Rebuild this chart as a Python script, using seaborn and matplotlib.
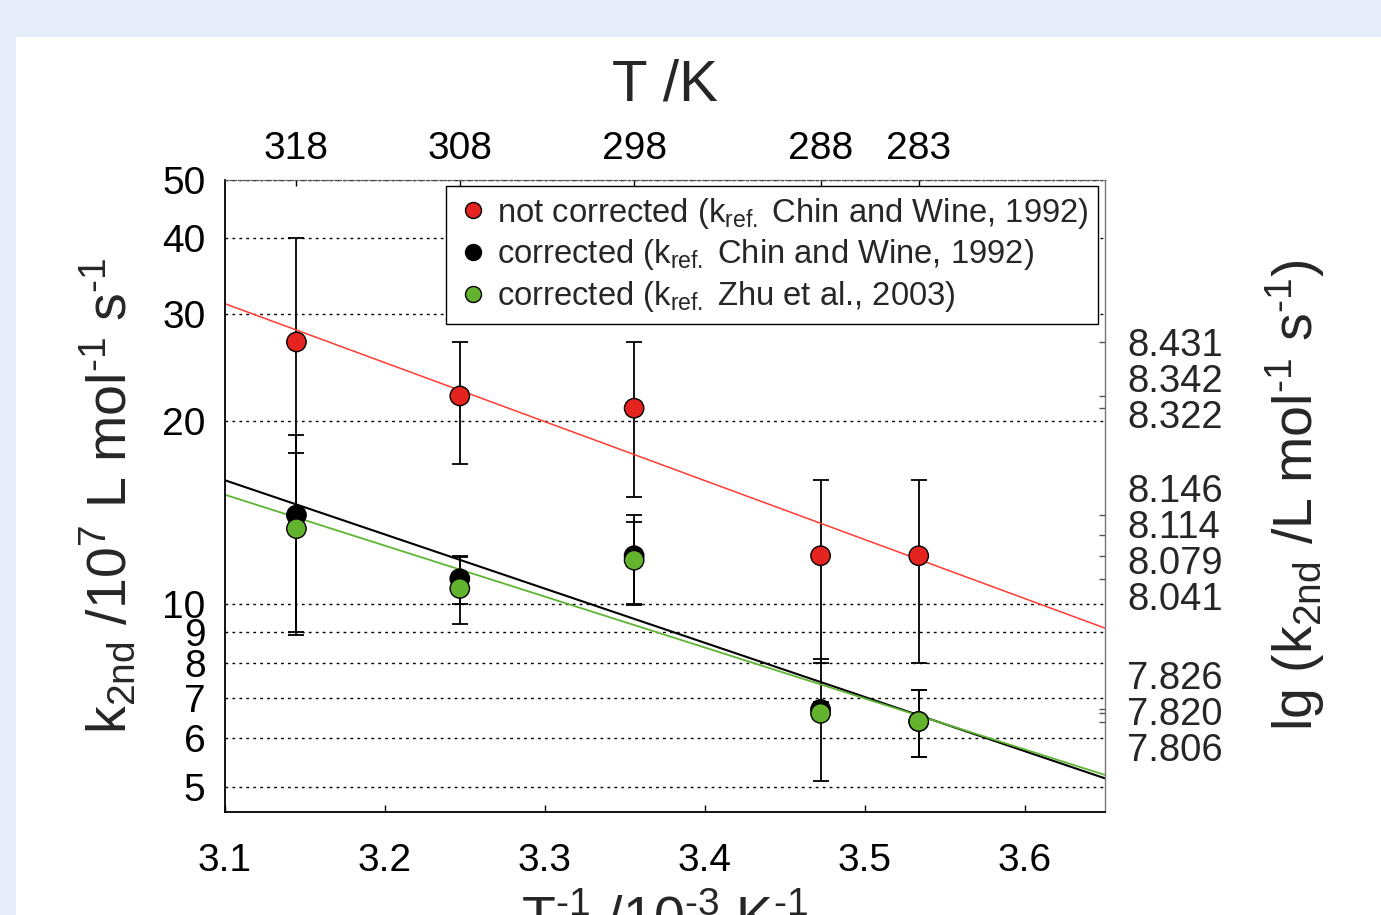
import numpy as np
import pandas as pd
import matplotlib
matplotlib.use("Agg")
import matplotlib.pyplot as plt
import matplotlib.transforms as mtransforms
from matplotlib.patches import Rectangle
from matplotlib.lines import Line2D
from matplotlib.ticker import FixedLocator, FixedFormatter, NullLocator
import seaborn as sns

# ---------------- data ----------------
temperatures_K = [318, 308, 298, 288, 283]
k_not_corrected = [27.0, 22.0, 21.0, 12.0, 12.0]
err_not_corrected = [13.0, 5.0, 6.0, 4.0, 4.0]
k_corrected_chin = [14.0, 11.0, 12.0, 6.7, 6.4]
err_corrected_chin = [5.0, 1.0, 2.0, 0.2, 0.8]
k_corrected_zhu = [13.3, 10.6, 11.8, 6.6, 6.4]
err_corrected_zhu = [4.4, 1.35, 1.85, 1.5, 0.8]
series_labels = [
    r"not corrected (k$_{\mathrm{ref.}}$ Chin and Wine, 1992)",
    r"corrected (k$_{\mathrm{ref.}}$ Chin and Wine, 1992)",
    r"corrected (k$_{\mathrm{ref.}}$ Zhu et al., 2003)",
]
marker_colors = ["#e5241f", "#000000", "#63b32e"]
line_colors = ["#ff3b33", "#000000", "#5fb533"]
x_ticks = [3.1, 3.2, 3.3, 3.4, 3.5, 3.6]
y_ticks = [5, 6, 7, 8, 9, 10, 20, 30, 40, 50]
y_ticklabels = ["5", "6", "7", "8", "9", "10", "20", "30", "40", "50"]
lg_ticks = [8.431, 8.342, 8.322, 8.146, 8.114, 8.079, 8.041, 7.826, 7.820, 7.806]

# ---------------- style ----------------
sns.set_theme(style="white")
plt.rcParams["font.family"] = ["Liberation Sans", "DejaVu Sans"]
plt.rcParams["mathtext.fontset"] = "custom"
plt.rcParams["mathtext.rm"] = "Liberation Sans"
plt.rcParams["mathtext.it"] = "Liberation Sans:italic"
plt.rcParams["mathtext.bf"] = "Liberation Sans:bold"
plt.rcParams["mathtext.default"] = "regular"

TICK_FS = 28
LABEL_FS = 40
HY = "\u2010"  # short hyphen for superscripts

fig = plt.figure(figsize=(13.81, 9.15), dpi=100)
fig.patch.set_facecolor("#e6ecf9")
fig.add_artist(Rectangle((16 / 1381, 0), 1 - 16 / 1381, 1 - 37 / 915,
                         transform=fig.transFigure, facecolor="white",
                         edgecolor="none", zorder=-10))

ax = fig.add_axes([225 / 1381, (915 - 812) / 915, 880 / 1381, 632.5 / 915])
ax.set_facecolor("white")

# long-form data frame
frames = []
for lab, k, e in zip(series_labels,
                     [k_not_corrected, k_corrected_chin, k_corrected_zhu],
                     [err_not_corrected, err_corrected_chin, err_corrected_zhu]):
    frames.append(pd.DataFrame({
        "T": temperatures_K,
        "invT": [1000.0 / t for t in temperatures_K],
        "k": k, "err": e, "series": lab}))
df = pd.concat(frames, ignore_index=True)

ax.set_yscale("log")
ax.set_xlim(3.1, 3.65)
ax.set_ylim(4.54, 50)

# error bars
for lab in series_labels:
    sub = df[df["series"] == lab]
    ax.errorbar(sub["invT"], sub["k"], yerr=sub["err"], fmt="none",
                ecolor="black", elinewidth=1.3, capsize=6, capthick=1.3,
                zorder=2)

# Arrhenius fit lines (log10 k vs 1/T)
xs = np.array(ax.get_xlim())
for lab, lc, lw in zip(series_labels, line_colors, [1.1, 1.5, 1.3]):
    sub = df[df["series"] == lab]
    p = np.polyfit(sub["invT"], np.log10(sub["k"]), 1)
    sns.lineplot(x=xs, y=10 ** np.polyval(p, xs), ax=ax, color=lc,
                 linewidth=lw, zorder=2.5, legend=False)

# markers
sns.scatterplot(data=df, x="invT", y="k", hue="series",
                palette=dict(zip(series_labels, marker_colors)),
                s=195, edgecolor="black", linewidth=1.0, ax=ax, zorder=3,
                legend=False)
ax.set_xlim(3.1, 3.65)
ax.set_ylim(4.54, 50)

# axes styling
ax.xaxis.set_major_locator(FixedLocator(x_ticks))
ax.set_xticklabels([f"{v:.1f}" for v in x_ticks])
ax.yaxis.set_major_locator(FixedLocator(y_ticks))
ax.yaxis.set_major_formatter(FixedFormatter(y_ticklabels))
ax.yaxis.set_minor_locator(NullLocator())
ax.tick_params(axis="x", direction="in", length=5, width=1, labelsize=TICK_FS,
               pad=22, colors="black", bottom=True)
ax.tick_params(axis="y", direction="in", length=0, labelsize=TICK_FS, pad=14,
               colors="black", left=True)
ax.grid(axis="y", linestyle=(0, (2, 3)), color="black", linewidth=1.0)
ax.grid(axis="x", visible=False)
for side in ["left", "bottom"]:
    ax.spines[side].set_color("black")
    ax.spines[side].set_linewidth(1.3)
ax.spines["top"].set_visible(False)
ax.spines["right"].set_color("#777777")
ax.spines["right"].set_linewidth(1.0)

ax.set_xlabel(f"T$^{{{HY}1}}$ /10$^{{{HY}3}}$ K$^{{{HY}1}}$",
              fontsize=LABEL_FS, labelpad=12)
ax.set_ylabel(f"k$_{{2nd}}$ /10$^{{7}}$ L mol$^{{{HY}1}}$ s$^{{{HY}1}}$",
              fontsize=LABEL_FS)
ax.yaxis.set_label_coords(-0.099, 0.5)

# legend
handles = [Line2D([], [], linestyle="none", marker="o", markersize=11.5,
                  markerfacecolor=c, markeredgecolor="black",
                  markeredgewidth=1.0) for c in marker_colors]
leg = ax.legend(handles, series_labels, loc="upper right", fontsize=23.6,
                frameon=True, fancybox=False, framealpha=1, edgecolor="black",
                borderaxespad=0.2, handletextpad=0.25, handlelength=1.0,
                labelspacing=0.2, borderpad=0.3)
leg.get_frame().set_linewidth(1.0)
leg.set_zorder(5)

# top axis: temperature
ax_top = ax.twiny()
ax_top.set_xlim(ax.get_xlim())
ax_top.xaxis.set_major_locator(FixedLocator([1000.0 / t for t in temperatures_K]))
ax_top.set_xticklabels([str(t) for t in temperatures_K])
ax_top.xaxis.set_minor_locator(NullLocator())
ax_top.tick_params(axis="x", direction="in", length=4, width=1,
                   labelsize=TICK_FS, pad=9, colors="black")
ax_top.set_xlabel("T /K", fontsize=42, labelpad=22)
for s in ax_top.spines.values():
    s.set_visible(False)
ax_top.spines["top"].set_visible(True)
ax_top.spines["top"].set_color("#555555")
ax_top.spines["top"].set_linewidth(0.9)
ax_top.spines["top"].set_linestyle((0, (2, 1.5)))

# right axis: lg k
ax_r = ax.twinx()
ax_r.set_yscale("log")
ax_r.set_ylim(ax.get_ylim())
ax_r.yaxis.set_major_locator(FixedLocator([10 ** (v - 7) for v in lg_ticks]))
ax_r.yaxis.set_minor_locator(NullLocator())
ax_r.set_yticklabels([""] * len(lg_ticks))
ax_r.tick_params(axis="y", direction="in", length=4, width=1, colors="#555555")
for s in ax_r.spines.values():
    s.set_visible(False)

# spread the right labels so they don't overlap (in log10 units)
def spread(values, gap, merge_factor=1.4):
    vals = sorted(values)
    clusters = [[v] for v in vals]
    def bounds(c):
        m = np.mean(c)
        h = (len(c) - 1) * gap / 2
        return m - h, m + h
    merged = True
    while merged:
        merged = False
        for i in range(len(clusters) - 1):
            if bounds(clusters[i + 1])[0] - bounds(clusters[i])[1] < gap * merge_factor:
                clusters[i] = clusters[i] + clusters[i + 1]
                del clusters[i + 1]
                merged = True
                break
    pos = {}
    for c in clusters:
        m = np.mean(c)
        n = len(c)
        for j, v in enumerate(sorted(c)):
            pos[v] = m + (j - (n - 1) / 2) * gap
    return pos

label_pos = spread([v - 7 for v in lg_ticks], 0.059)
trans = mtransforms.blended_transform_factory(ax_r.transAxes, ax_r.transData)
for v in lg_ticks:
    ax_r.text(1.025, 10 ** label_pos[v - 7], f"{v:.3f}", transform=trans,
              ha="left", va="center", fontsize=27.5, clip_on=False)

ax_r.set_ylabel(f"lg (k$_{{2nd}}$ /L mol$^{{{HY}1}}$ s$^{{{HY}1}}$)",
                fontsize=LABEL_FS, rotation=90)
ax_r.yaxis.set_label_coords(1.18, 0.5)

fig.savefig("out.png", dpi=100, facecolor=fig.get_facecolor())
